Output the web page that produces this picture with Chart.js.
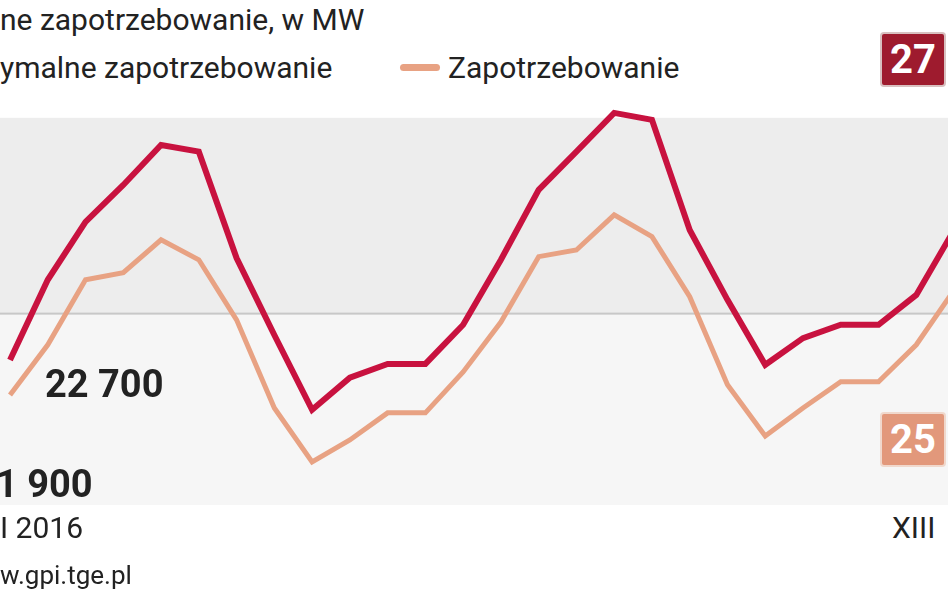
<!DOCTYPE html>
<html>
<head>
<meta charset="utf-8">
<script src="https://cdn.jsdelivr.net/npm/chart.js@4/dist/chart.umd.min.js"></script>
<style>
  body { margin: 0; width: 948px; height: 593px; overflow: hidden; background: #fff;
         font-family: "Liberation Sans Narrow", "Roboto", sans-serif; position: relative; }
  .t { position: absolute; white-space: nowrap; color: #222; }
  #wrap { position: absolute; left: 0; top: 100px; width: 948px; height: 405px; }
  .box { position: absolute; color: #fff; font-weight: bold; font-size: 40px; padding: 2px 8px;
         border-radius: 4px; }
</style>
</head>
<body>
<div class="t" style="left:0;top:2px;font-size:30px;">ne zapotrzebowanie, w MW</div>
<div class="t" style="left:0;top:50px;font-size:30px;">ymalne zapotrzebowanie</div>
<div style="position:absolute;left:400px;top:64px;width:40px;height:7px;background:#e8a283;border-radius:4px"></div>
<div class="t" style="left:448px;top:50px;font-size:30px;">Zapotrzebowanie</div>
<div id="wrap"><canvas id="c"></canvas></div>
<div class="t" style="left:45px;top:362px;font-size:38px;font-weight:bold;">22 700</div>
<div class="t" style="left:-4px;top:462px;font-size:38px;font-weight:bold;">1 900</div>
<div class="t" style="left:0;top:510px;font-size:30px;">I 2016</div>
<div class="t" style="left:892px;top:510px;font-size:30px;">XIII</div>
<div class="t" style="left:0;top:560px;font-size:26px;">w.gpi.tge.pl</div>
<div class="box" style="left:880px;top:32px;background:#9e1b2e;border:2px solid #d8c0c0">27</div>
<div class="box" style="left:880px;top:412px;background:#e2987b;border:2px solid #f0d8cc">25</div>
<script>
const maxDemand = [22960, 24760, 26060, 26890, 27790, 27640, 25250, 23520, 21840, 22560, 22870, 22870, 23750,
  25210, 26780, 27640, 28510, 28355, 25880, 24310, 22850, 23450, 23750, 23750, 24420, 25880];
const demand = [22170, 23300, 24760, 24920, 25660, 25210, 23860, 21880, 20670, 21160, 21770, 21770, 22690,
  23810, 25280, 25430, 26220, 25730, 24380, 22400, 21250, 21880, 22470, 22470, 23300, 24530];
const bandTop = 28400, bandBottom = 24000;

const band = {
  id: "band",
  beforeDatasetsDraw(chart) {
    const { ctx, chartArea, scales } = chart;
    const y1 = scales.y.getPixelForValue(bandTop), y2 = scales.y.getPixelForValue(bandBottom);
    ctx.save();
    ctx.fillStyle = "#ededed";
    ctx.fillRect(chartArea.left, y1, chartArea.width, y2 - y1);
    ctx.fillStyle = "#f6f6f6";
    ctx.fillRect(chartArea.left, y2, chartArea.width, chartArea.bottom - y2);
    ctx.fillStyle = "#c8c8c8";
    ctx.fillRect(chartArea.left, y2 - 1, chartArea.width, 2);
    ctx.restore();
  }
};

const pts = arr => arr.map((v, i) => ({ x: i, y: v }));
new Chart(document.getElementById("c"), {
  type: "line",
  data: {
    datasets: [
      { data: pts(maxDemand), borderColor: "#c8123f", borderWidth: 6, pointRadius: 0, tension: 0 },
      { data: pts(demand), borderColor: "#e8a283", borderWidth: 5, pointRadius: 0, tension: 0 }
    ]
  },
  options: {
    responsive: true, maintainAspectRatio: false, animation: false,
    layout: { padding: 0 },
    plugins: { legend: { display: false }, tooltip: { enabled: false } },
    scales: {
      x: { type: "linear", min: -0.265, max: 24.84, display: false },
      y: { min: 19700, max: 28800, display: false }
    }
  },
  plugins: [band]
});
</script>
</body>
</html>
